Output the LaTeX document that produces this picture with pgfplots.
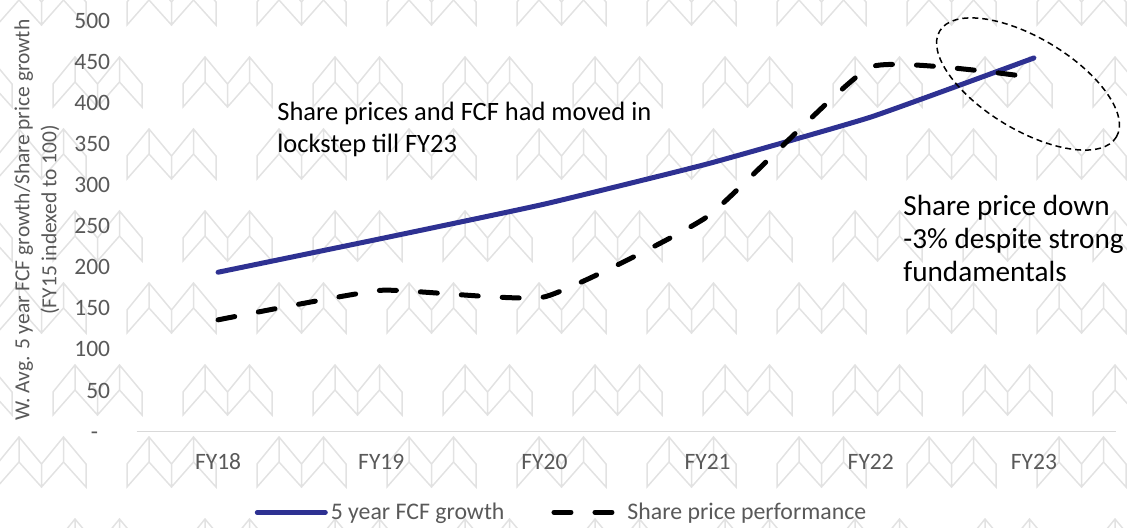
\documentclass[border=0pt]{standalone}
\usepackage{pgfplots}
\pgfplotsset{compat=1.18}
\usepackage{fontspec}
\setmainfont{Carlito}
\definecolor{fcfblue}{RGB}{46,49,146}
\definecolor{txtgray}{RGB}{89,89,89}
\definecolor{axgray}{RGB}{217,217,217}
\definecolor{wmgray}{RGB}{226,226,226}
\newcommand\logo[2]{%
  \draw[wmgray, line width=0.75pt, line join=miter]
    (#1,#2+27) -- (#1+22,#2) -- (#1+44.5,#2+27) -- (#1+66.5,#2) -- (#1+89,#2+27)
    -- (#1+89,#2+50) -- (#1+66.5,#2+25) -- (#1+44.5,#2+50) -- (#1+22,#2+25) -- (#1,#2+50) -- cycle
    (#1+22,#2) -- (#1+22,#2+25)
    (#1+44.5,#2+27) -- (#1+44.5,#2+50)
    (#1+66.5,#2) -- (#1+66.5,#2+25);}
\begin{document}
\begin{tikzpicture}
\useasboundingbox (0,0) rectangle (563.5pt,263.5pt);
% background watermark
\begin{scope}[x=0.5pt,y=-0.5pt,shift={(0,263.5pt)}]
  \clip (0,0) rectangle (1127,527);
  \foreach \r in {-25,129,283,437}{\foreach \c in {-3,127,...,1037}{\logo{\c}{\r}}}
  \foreach \r in {57,211,365,519}{\foreach \c in {-77,53,...,1093}{\logo{\c}{\r}}}
\end{scope}
\begin{axis}[
  at={(68.25pt,47.75pt)}, anchor=south west,
  scale only axis, width=489.5pt, height=205.25pt,
  xmin=-0.5, xmax=5.5, ymin=0, ymax=500,
  xtick={0,1,2,3,4,5},
  xticklabels={FY18,FY19,FY20,FY21,FY22,FY23},
  ytick={0,50,100,150,200,250,300,350,400,450,500},
  yticklabels={{-\phantom{0}},50,100,150,200,250,300,350,400,450,500},
  axis x line=bottom, axis y line=left,
  x axis line style={axgray, line width=0.75pt, -},
  y axis line style={draw=none},
  major tick length=0pt,
  tick label style={font=\fontsize{11.75}{14}\selectfont, text=txtgray},
  yticklabel style={anchor=east, inner sep=0pt, xshift=-13pt},
  xticklabel style={anchor=center, inner sep=0pt, yshift=-15pt},
  clip=false,
  legend columns=2,
  legend image code/.code={\draw[#1] (0pt,0pt) -- (34pt,0pt);},
  legend style={at={(0.4346,-0.197)}, anchor=center, draw=none, fill=none,
    font=\fontsize{11.9}{14}\selectfont, text=txtgray,
    nodes={inner xsep=1.5pt},
    /tikz/every even column/.append style={column sep=22pt}},
]
\addplot[fcfblue, line width=2.5pt, line cap=round, smooth, tension=0.25]
  coordinates {(0,194) (1,235) (2,277) (3,326) (4,383) (5,455)};
\addlegendentry{5 year FCF growth}
\addplot[black, line width=2.5pt, line cap=round, dash pattern=on 8.5pt off 12pt, smooth, tension=0.25]
  coordinates {(0,136) (1,172) (2,164) (3,262) (4,444) (5,431)};
\addlegendentry{Share price performance}
\end{axis}
% annotations
\begin{scope}[x=0.5pt,y=-0.5pt,shift={(0,263.5pt)}]
  \node[rotate=90, align=center, inner sep=0pt, text=txtgray,
        font=\fontsize{10.75}{13.5}\selectfont] at (37,220)
        {W. Avg. 5 year FCF growth/Share price growth\\(FY15 indexed to 100)};
  \node[anchor=west, align=left, inner sep=0pt,
        font=\fontsize{13.25}{16}\selectfont] at (277,129)
        {Share prices and FCF had moved in\\lockstep till FY23};
  \node[anchor=west, align=left, inner sep=0pt,
        font=\fontsize{14.6}{16.5}\selectfont] at (903,238)
        {Share price down\\-3\% despite strong\\fundamentals};
  \draw[black, line width=0.75pt, dash pattern=on 3pt off 2pt,
        shift={(1028,84)}, rotate=-31] (0,0) ellipse [x radius=51.5pt, y radius=23pt];
\end{scope}
\end{tikzpicture}
\end{document}
